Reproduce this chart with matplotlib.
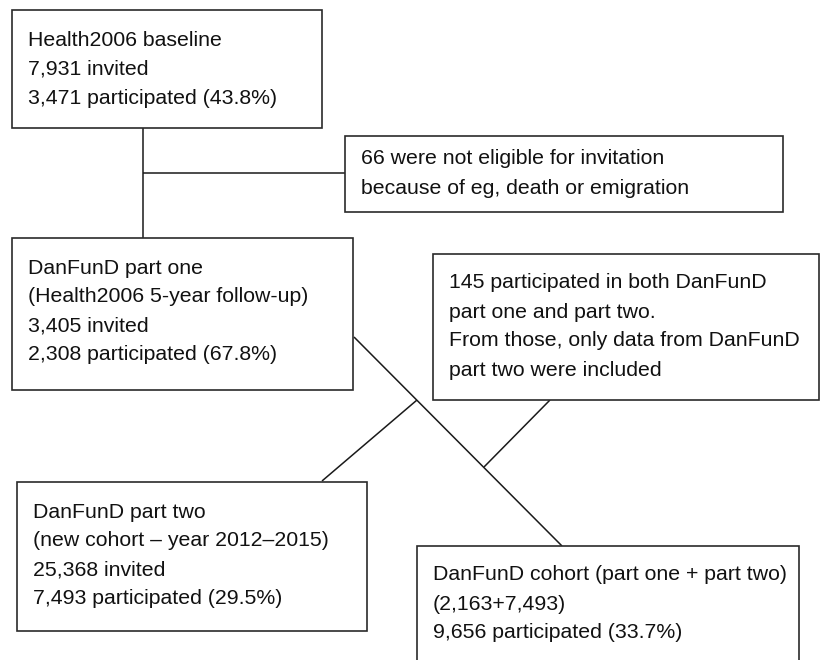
import matplotlib.pyplot as plt
from matplotlib.patches import Rectangle

plt.rcParams['font.family'] = ['Liberation Sans', 'DejaVu Sans']

# box texts (one entry per line)
baseline_txt = ["Health2006 baseline", "7,931 invited", "3,471 participated (43.8%)"]
excluded_txt = ["66 were not eligible for invitation",
                "because of eg, death or emigration"]
part_one_txt = ["DanFunD part one", "(Health2006 5-year follow-up)",
                "3,405 invited", "2,308 participated (67.8%)"]
overlap_txt = ["145 participated in both DanFunD", "part one and part two.",
               "From those, only data from DanFunD", "part two were included"]
part_two_txt = ["DanFunD part two", "(new cohort \u2013 year 2012\u20132015)",
                "25,368 invited", "7,493 participated (29.5%)"]
cohort_txt = ["DanFunD cohort (part one + part two)", "(2,163+7,493)",
              "9,656 participated (33.7%)"]

# layout in pixels: (left, top, right, bottom), first line centre
boxes = [
    (baseline_txt, (12, 10, 322, 128), 40),
    (excluded_txt, (345, 136, 783, 212), 159),
    (part_one_txt, (12, 238, 353, 390), 268),
    (overlap_txt, (433, 254, 819, 400), 283),
    (part_two_txt, (17, 482, 367, 631), 512),
    (cohort_txt, (417, 546, 799, 662), 575),
]
LINE_H = 29
PAD = 16

connectors = [
    [(143, 128), (143, 238)],
    [(143, 173), (345, 173)],
    [(354, 337), (562, 546)],
    [(417, 400), (322, 481)],
    [(550, 400), (484, 467)],
]

fig = plt.figure(figsize=(8.22, 6.60), dpi=100)
ax = fig.add_axes([0, 0, 1, 1])
ax.set_xlim(0, 822)
ax.set_ylim(660, 0)
ax.axis('off')

for seg in connectors:
    xs = [p[0] for p in seg]
    ys = [p[1] for p in seg]
    ax.plot(xs, ys, color='#1a1a1a', lw=1.1, solid_capstyle='butt')

for lines, (l, t, r, b), y0 in boxes:
    ax.add_patch(Rectangle((l, t), r - l, b - t, facecolor='white',
                           edgecolor='#2a2a2a', lw=1.2, zorder=3))
    for i, s in enumerate(lines):
        ax.text(l + PAD, y0 + i * LINE_H, s, fontsize=15.3, color='#111111',
                ha='left', va='center', zorder=4)

plt.savefig('out.png', dpi=100)
